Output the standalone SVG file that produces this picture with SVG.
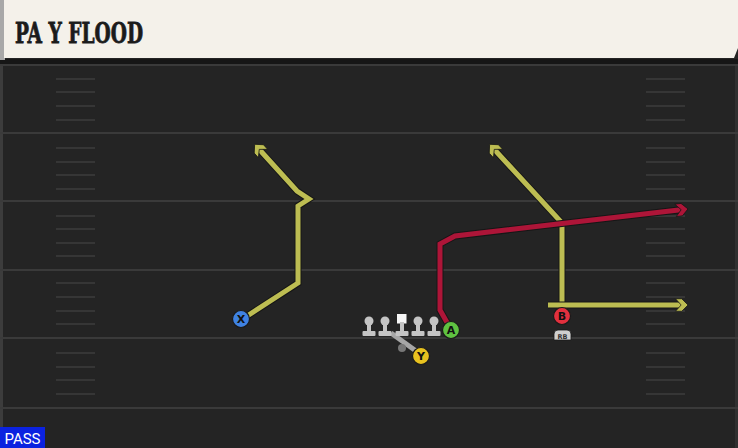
<svg xmlns="http://www.w3.org/2000/svg" width="738" height="448" viewBox="0 0 738 448">
<defs>
<style>
.yard{stroke:#3a3a3a;stroke-width:2}
.hash{stroke:#363636;stroke-width:2}
.route{fill:none;stroke-linejoin:miter;stroke-linecap:butt}
.out{stroke:#161616;stroke-width:7}
.yel{stroke:#bdbd52;stroke-width:5}
.red{stroke:#ad1538;stroke-width:5}
.lm{fill:#c4c4c4}
.pl{stroke:#1a1a1a;stroke-width:1.2}
.lbl{font-family:"DejaVu Sans","Liberation Sans",sans-serif;font-weight:bold;font-size:11px;fill:#111;text-anchor:middle}
</style>
<marker id="ay" viewBox="-1 -1 12 12" refX="6" refY="5" markerWidth="3" markerHeight="3" orient="auto" markerUnits="strokeWidth">
<path d="M0,0 L5,0 L10,5 L5,10 L0,10 L4.5,5 Z" fill="#bdbd52" stroke="#161616" stroke-width="0.6" stroke-linejoin="miter"/>
</marker>
<marker id="ar" viewBox="-1 -1 12 12" refX="6" refY="5" markerWidth="3" markerHeight="3" orient="auto" markerUnits="strokeWidth">
<path d="M0,0 L5,0 L10,5 L5,10 L0,10 L4.5,5 Z" fill="#ad1538" stroke="#161616" stroke-width="0.6" stroke-linejoin="miter"/>
</marker>
</defs>
<rect width="738" height="448" fill="#242424"/>
<rect x="0" y="0" width="3" height="448" fill="#3c3c3c"/>
<rect x="735" y="60" width="3" height="388" fill="#303030"/>
<g id="field">
<line class="yard" x1="0" y1="65" x2="738" y2="65"/>
<line class="yard" x1="0" y1="133" x2="738" y2="133"/>
<line class="yard" x1="0" y1="201" x2="738" y2="201"/>
<line class="yard" x1="0" y1="270" x2="738" y2="270"/>
<line class="yard" x1="0" y1="338" x2="738" y2="338"/>
<line class="yard" x1="0" y1="408" x2="738" y2="408"/>
<g id="hashes">
<path class="hash" d="M56,79H95M56,92H95M56,106H95M56,120H95M56,148H95M56,162H95M56,175H95M56,189H95M56,216H95M56,229H95M56,243H95M56,256H95M56,283H95M56,297H95M56,311H95M56,324H95M56,353H95M56,367H95M56,380H95M56,394H95"/>
<path class="hash" d="M646,79H685M646,92H685M646,106H685M646,120H685M646,148H685M646,162H685M646,175H685M646,189H685M646,216H685M646,229H685M646,243H685M646,256H685M646,283H685M646,297H685M646,311H685M646,324H685M646,353H685M646,367H685M646,380H685M646,394H685"/>
</g>
</g>
<g id="header">
<rect x="0" y="59" width="738" height="5" fill="#161616"/>
<rect x="0" y="0" width="5" height="60" fill="#a8a8a8"/>
<polygon points="4,0 738,0 738,48 734,58 4,58" fill="#f4f1ea"/>
<text x="15" y="43" font-family="DejaVu Serif,serif" font-weight="bold" font-size="27" fill="#1b1b1b" stroke="#1b1b1b" stroke-width="0.8" textLength="128" lengthAdjust="spacingAndGlyphs">PA Y FLOOD</text>
</g>
<g id="connectors">
<g id="route-x">
<polyline class="route out" points="241,320 298,283 298,206 309,199 297,191 258,148"/>
<polyline class="route yel" points="241,320 298,283 298,206 309,199 297,191 258,148" marker-end="url(#ay)"/>
</g>
<g id="route-b-post">
<polyline class="route out" points="562,305 562,223 493,148"/>
<polyline class="route yel" points="562,305 562,223 493,148" marker-end="url(#ay)"/>
</g>
<g id="route-b-flat">
<polyline class="route out" points="548,305 683,305"/>
<polyline class="route yel" points="548,305 683,305" marker-end="url(#ay)"/>
</g>
<g id="route-a">
<path class="route out" d="M449,326 L440,310 L440,244 L455,236 L683,209.5"/>
<path class="route red" d="M449,326 L440,310 L440,244 L455,236 L683,209.5" marker-end="url(#ar)"/>
</g>
<g id="block-y">
<line x1="391" y1="333" x2="416" y2="351" stroke="#a6a6a6" stroke-width="5"/>
<circle cx="402" cy="348" r="4" fill="#777"/>
</g>
</g>
<g id="line">
<g id="lt"><circle class="lm" cx="369" cy="321" r="4.5"/><rect class="lm" x="367" y="321" width="4" height="11"/><rect class="lm" x="362.5" y="331" width="13" height="5" rx="1"/></g>
<g id="lg"><circle class="lm" cx="385" cy="321" r="4.5"/><rect class="lm" x="383" y="321" width="4" height="11"/><rect class="lm" x="378.5" y="331" width="13" height="5" rx="1"/></g>
<g id="c"><rect x="397" y="314" width="9.5" height="9.5" fill="#f6f6f6"/><rect class="lm" x="400" y="322" width="4" height="10"/><rect class="lm" x="395.5" y="331" width="13" height="5" rx="1"/></g>
<g id="rg"><circle class="lm" cx="418" cy="321" r="4.5"/><rect class="lm" x="416" y="321" width="4" height="11"/><rect class="lm" x="411.5" y="331" width="13" height="5" rx="1"/></g>
<g id="rt"><circle class="lm" cx="434" cy="321" r="4.5"/><rect class="lm" x="432" y="321" width="4" height="11"/><rect class="lm" x="427.5" y="331" width="13" height="5" rx="1"/></g>
</g>
<g id="player-x"><circle class="pl" cx="241" cy="319" r="8.5" fill="#3f82e2"/><text class="lbl" x="241" y="323">X</text></g>
<g id="player-a"><circle class="pl" cx="451" cy="330" r="8.5" fill="#5fc241"/><text class="lbl" x="451" y="334">A</text></g>
<g id="player-y"><circle class="pl" cx="421" cy="356" r="8.5" fill="#e8c21f"/><text class="lbl" x="421" y="360">Y</text></g>
<g id="player-b"><circle class="pl" cx="562" cy="316" r="8.5" fill="#e2303e"/><text class="lbl" x="562" y="320">B</text></g>
<g id="tag-rb"><path d="M554,340 V334 Q554,330 558,330 H567 Q571,330 571,334 V340 Z" fill="#cfcfcf" stroke="#1a1a1a" stroke-width="0.8"/><text x="562.5" y="338.5" font-family="DejaVu Sans,sans-serif" font-size="6.5" font-weight="bold" fill="#333" text-anchor="middle">RB</text></g>
<g id="pass-tag"><rect x="0" y="427" width="45" height="21" fill="#0b22e0"/><text x="22.5" y="444" font-family="Roboto,Liberation Sans,sans-serif" font-size="15" fill="#ffffff" text-anchor="middle">PASS</text></g>
</svg>
